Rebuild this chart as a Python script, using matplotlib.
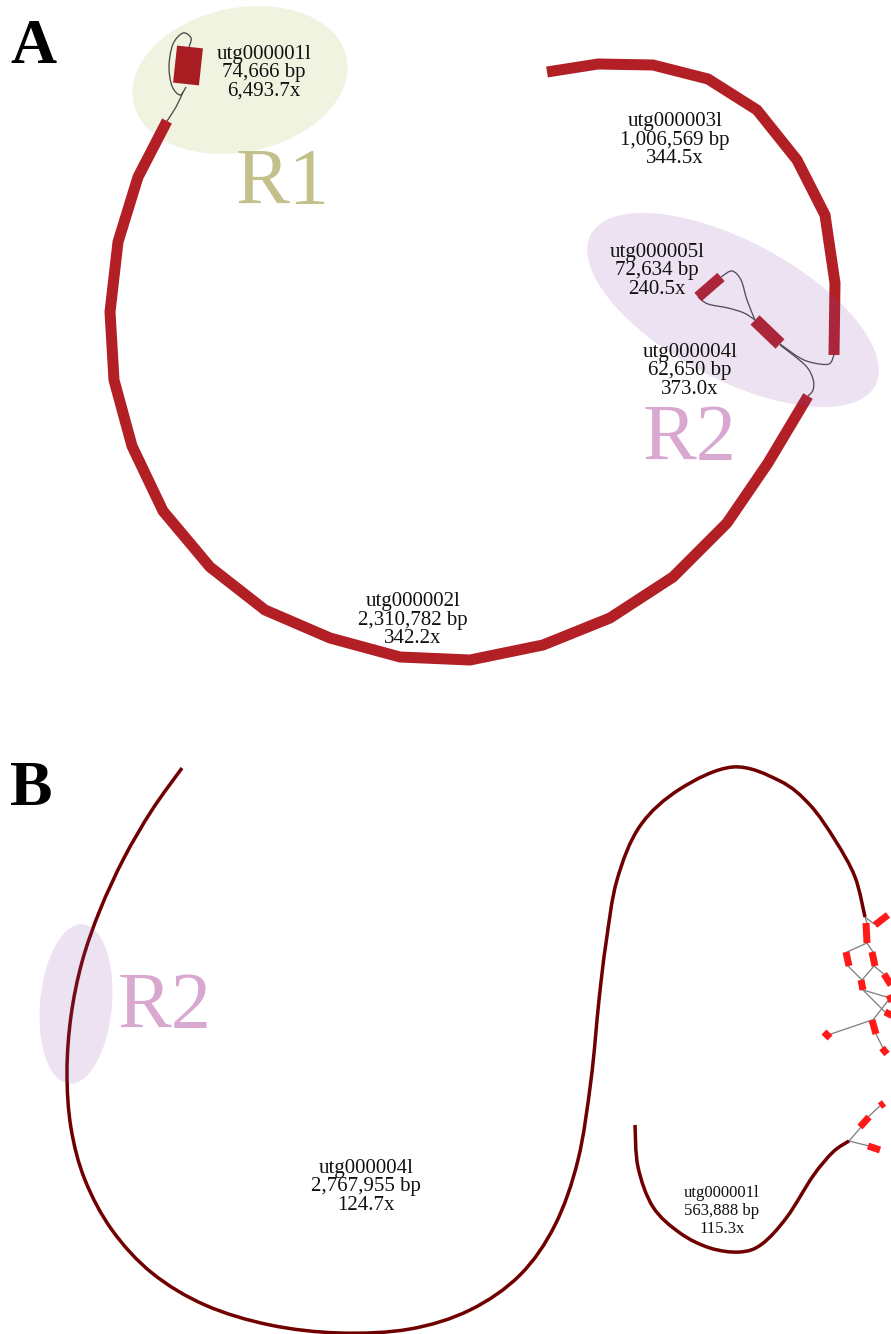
import numpy as np
import matplotlib.pyplot as plt
from matplotlib.path import Path
from matplotlib.patches import PathPatch, Ellipse

plt.rcParams['font.family'] = ['Liberation Serif', 'DejaVu Serif']

# ---- panel A: contig layout (pixel coords, y down) ----
utg2_A = [(167, 121), (138, 177), (118, 242), (110, 312), (114, 380), (132, 446),
          (163, 511), (210, 567), (265, 610), (330, 638), (400, 657), (470, 660),
          (543, 645), (610, 618), (673, 577), (727, 523), (768, 463), (808, 396)]
utg3_A = [(547, 72), (598, 64), (653, 65), (708, 79), (757, 110), (797, 160),
          (825, 215), (835, 283), (834, 355)]
utg1_A = [(190, 47), (186, 84)]
utg5_A = [(698, 297), (721, 277)]
utg4_A = [(755, 320), (780, 344)]

links_A = [
    [(189, 47), (191, 38), (183, 33), (173, 44), (169, 66), (172, 86), (180, 95), (186, 87)],
    [(183, 92), (176, 107), (167, 121)],
    [(721, 277), (732, 271), (741, 280), (747, 300), (755, 320)],
    [(698, 297), (708, 304), (728, 308), (744, 313), (755, 320)],
    [(780, 344), (800, 358), (814, 363), (829, 364), (834, 355)],
    [(780, 345), (805, 365), (813, 379), (813, 390), (808, 396)],
]

labels_A = [
    ("utg000001l\n74,666 bp\n6,493.7x", (264, 73)),
    ("utg000003l\n1,006,569 bp\n344.5x", (675, 140)),
    ("utg000005l\n72,634 bp\n240.5x", (657, 271)),
    ("utg000004l\n62,650 bp\n373.0x", (690, 371)),
    ("utg000002l\n2,310,782 bp\n342.2x", (413, 620)),
]

# ---- panel B ----
utg4_B = [(182, 768), (152, 810), (124, 858), (100, 910), (82, 962), (71, 1016),
          (67, 1072), (71, 1128), (85, 1180), (112, 1230), (152, 1273), (205, 1305),
          (270, 1325), (340, 1333), (410, 1329), (470, 1310), (520, 1275),
          (555, 1225), (578, 1160), (591, 1080), (599, 1000), (606, 943), (617, 880),
          (640, 826), (680, 789), (733, 767), (780, 781), (810, 805), (835, 840),
          (855, 877), (865, 917)]
utg1_B = [(635, 1125), (638, 1167), (653, 1207), (680, 1233), (710, 1248),
          (740, 1252), (762, 1244), (787, 1217), (813, 1176), (833, 1152), (849, 1141)]

small_nodes_B = [
    [(875, 925), (888, 915)], [(866, 923), (867, 943)], [(846, 952), (849, 966)],
    [(872, 952), (875, 966)], [(884, 974), (891, 985)], [(861, 980), (863, 990)],
    [(889, 995), (893, 1004)], [(885, 1012), (893, 1016)], [(872, 1020), (876, 1034)],
    [(824, 1032), (830, 1038)], [(882, 1048), (887, 1054)], [(860, 1127), (869, 1117)],
    [(880, 1106), (884, 1103)], [(868, 1146), (880, 1150)],
]
links_B = [
    [(865, 917), (867, 923)], [(865, 917), (874, 924)], [(867, 943), (847, 952)],
    [(867, 943), (873, 952)], [(848, 966), (862, 980)], [(874, 966), (862, 980)],
    [(874, 966), (885, 975)], [(863, 990), (890, 998)], [(863, 990), (886, 1013)],
    [(890, 998), (873, 1020)], [(872, 1020), (828, 1035)], [(876, 1034), (884, 1050)],
    [(849, 1141), (862, 1126)], [(868, 1117), (881, 1105)], [(849, 1141), (869, 1146)],
]

labels_B = [
    ("utg000004l\n2,767,955 bp\n124.7x", (366, 1187), 15, 0.93),
    ("utg000001l\n563,888 bp\n115.3x", (722, 1211), 12, 1.14),
]


def smooth(pts):
    # Catmull-Rom through the points, handed to matplotlib as cubic Beziers
    p = np.asarray(pts, float)
    verts = [p[0]]
    codes = [Path.MOVETO]
    for i in range(len(p) - 1):
        p0 = p[i - 1] if i > 0 else p[i]
        p3 = p[i + 2] if i + 2 < len(p) else p[i + 1]
        verts += [p[i] + (p[i + 1] - p0) / 6, p[i + 1] - (p3 - p[i]) / 6, p[i + 1]]
        codes += [Path.CURVE4] * 3
    return Path(verts, codes)


def px(v):
    return v * 0.72


fig = plt.figure(figsize=(8.91, 13.34), dpi=100)
ax = fig.add_axes([0, 0, 1, 1])
ax.set_xlim(0, 891)
ax.set_ylim(1334, 0)
ax.axis('off')

# R1 sits under the contigs
ax.add_patch(Ellipse((240, 80), 218, 144, angle=-12, facecolor=(0.6, 0.7, 0.2),
                     alpha=0.15, edgecolor='none', zorder=0))

red_A = '#b21f24'
for seg, w, c in [(utg2_A, 11, red_A), (utg3_A, 11, red_A), (utg1_A, 26, '#a81d22'),
                  (utg5_A, 11, red_A), (utg4_A, 13, red_A)]:
    s = np.array(seg)
    ax.plot(s[:, 0], s[:, 1], color=c, lw=px(w), solid_capstyle='butt',
            solid_joinstyle='miter', zorder=2)
for l in links_A:
    ax.add_patch(PathPatch(smooth(l), fill=False, color='#4a4a4a', lw=px(1.3), zorder=1))

# R2 is laid over the contigs
ax.add_patch(Ellipse((733, 310), 322, 138, angle=28, facecolor=(0.55, 0.3, 0.7),
                     alpha=0.16, edgecolor='none', zorder=3))
ax.add_patch(Ellipse((76, 1004), 72, 160, angle=5, facecolor=(0.55, 0.3, 0.7),
                     alpha=0.16, edgecolor='none', zorder=3))

ax.text(283, 185, "R1", fontsize=58, color='#c4c08c', ha='center', va='center', zorder=4)
ax.text(690, 440, "R2", fontsize=58, color='#d8a8d0', ha='center', va='center', zorder=4)
ax.text(165, 1008, "R2", fontsize=58, color='#d8a8d0', ha='center', va='center', zorder=4)

for txt, (x, y) in labels_A:
    ax.text(x, y, txt, fontsize=15, ha='center', va='center', linespacing=0.93,
            color='#111111', zorder=5)

# panel B
red_B = '#700000'
for seg in [utg4_B, utg1_B]:
    ax.add_patch(PathPatch(smooth(seg), fill=False, color=red_B, lw=px(3.5),
                           capstyle='butt', zorder=2))
for l in links_B:
    s = np.array(l)
    ax.plot(s[:, 0], s[:, 1], color='#808080', lw=px(1.3), zorder=1)
for n in small_nodes_B:
    s = np.array(n)
    ax.plot(s[:, 0], s[:, 1], color='#ff1a1a', lw=px(7), solid_capstyle='butt', zorder=2)

for txt, (x, y), fs, ls in labels_B:
    ax.text(x, y, txt, fontsize=fs, ha='center', va='center', linespacing=ls,
            color='#111111', zorder=5)

ax.text(33, 48, "A", fontsize=46, fontweight='bold', ha='center', va='center')
ax.text(31, 790, "B", fontsize=46, fontweight='bold', ha='center', va='center')

fig.savefig('out.png', dpi=100)
